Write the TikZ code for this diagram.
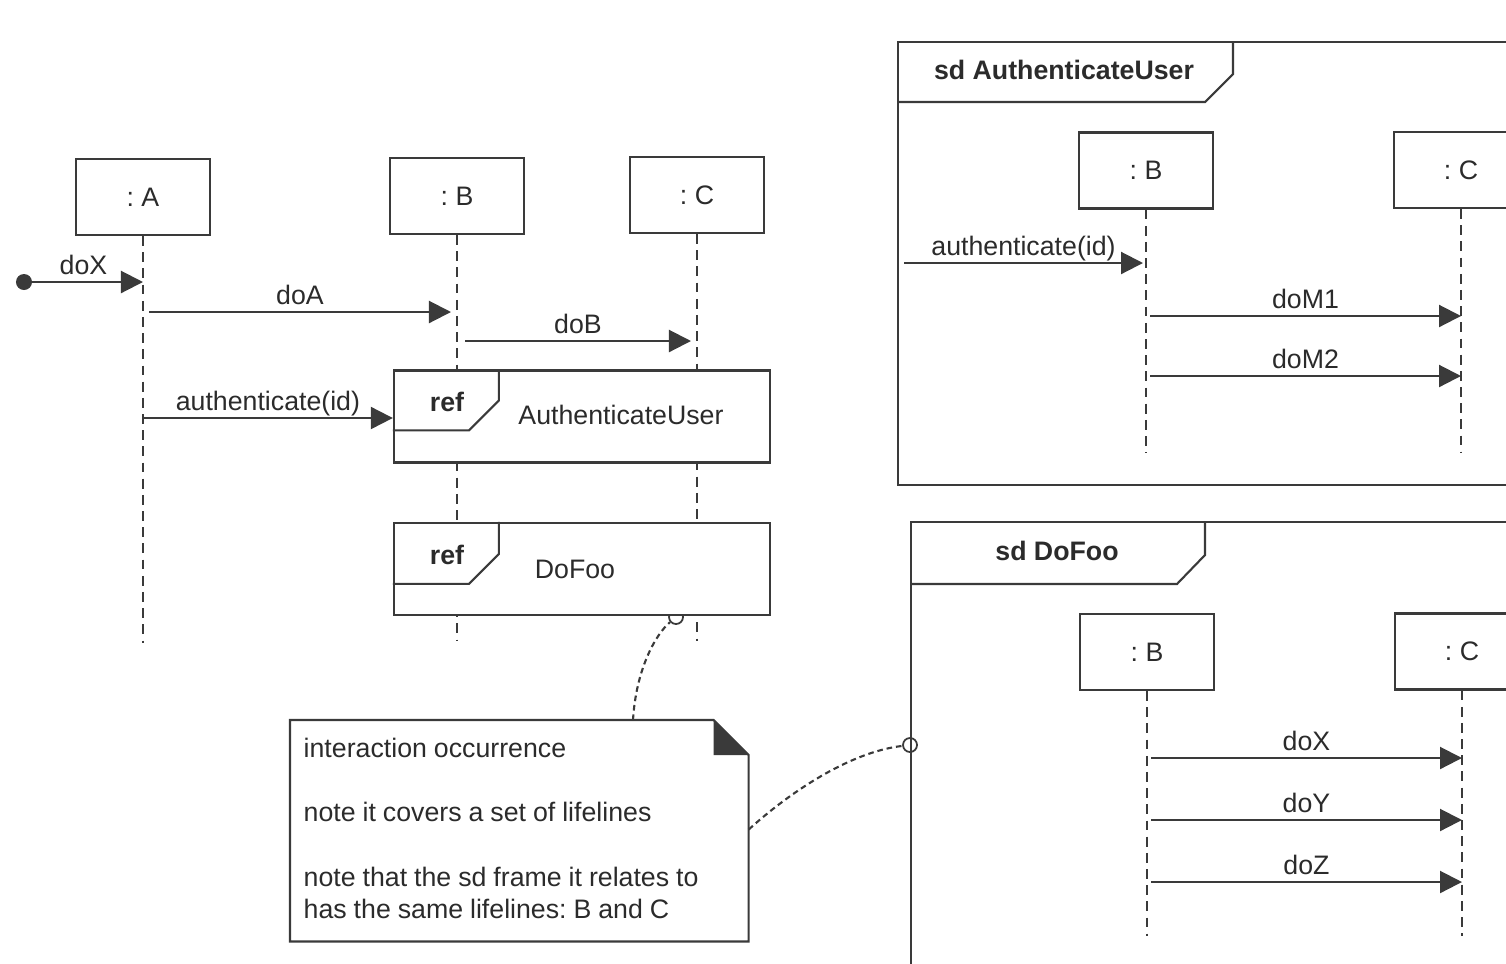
\documentclass[tikz,border=0pt]{standalone}
\usepackage{fontspec}
\setmainfont{Liberation Sans}
\usetikzlibrary{arrows.meta,calc,positioning}
\definecolor{ink}{HTML}{3A3A3A}
\definecolor{inkText}{HTML}{2B2B2B}
\frenchspacing

\begin{document}
\begin{tikzpicture}[x=0.01cm,y=-0.01cm,
  every node/.style={font=\fontsize{7.6}{9.1}\selectfont,text=inkText},
  tagtext/.style={font=\fontsize{7.6}{9.1}\selectfont\bfseries},
  lifebox/.style={draw=ink,line width=0.6pt,fill=white,minimum width=1.34cm,minimum height=0.76cm,inner sep=0pt},
  lifeline/.style={draw=ink,line width=0.6pt,dash pattern=on 2.8pt off 1.8pt},
  msg/.style={draw=ink,line width=0.6pt,-{Triangle[length=0.22cm,width=0.22cm]}},
  msglabel/.style={midway,anchor=base,yshift=2.2pt},
  refbox/.style={draw=ink,line width=0.6pt,fill=white,minimum width=3.76cm,minimum height=0.92cm,inner sep=0pt},
  sdframe/.style={draw=ink,line width=0.6pt,anchor=north west,inner sep=0pt},
  hook/.style={circle,draw=ink,line width=0.5pt,minimum size=0.14cm,inner sep=0pt},
  notelink/.style={draw=ink,line width=0.6pt,dash pattern=on 1.6pt off 1.1pt}]
  \useasboundingbox (0,0) rectangle (1506,963);
  \clip (0,0) rectangle (1506,963);

  % main interaction
  \node[lifebox] (A) at (143,197) {: A};
  \node[lifebox] (B) at (457,196) {: B};
  \node[lifebox] (C) at (697,195) {: C};
  \draw[lifeline] (A.south) -- ++(0,407);
  \draw[lifeline] (B.south) -- ++(0,406);
  \draw[lifeline] (C.south) -- ++(0,407);

  \node[hook] (hook1) at (676,617) {};
  \node[refbox] (refAU) at (582,416.5) {};
  \draw[draw=ink,line width=0.6pt] (refAU.north west) ++(106,0) -- ++(0,31) -- ++(-30,30) -- ++(-76,0);
  \node[tagtext] at (447,402) {ref};
  \node at (621,415) {AuthenticateUser};
  \node[refbox] (refDF) at (582,569) {};
  \draw[draw=ink,line width=0.6pt] (refDF.north west) ++(106,0) -- ++(0,32) -- ++(-30,30) -- ++(-76,0);
  \node[tagtext] at (447,555) {ref};
  \node at (575,569) {DoFoo};

  \node[circle,fill=ink,minimum size=0.16cm,inner sep=0pt] (start) at (24,282) {};
  \draw[msg] (start.center) -- (A.south |- start) node[msglabel] {doX};
  \draw[msg] ($(A.south |- 0,312)+(6,0)$) -- ($(B.south |- 0,312)+(-6,0)$) node[msglabel] {doA};
  \draw[msg] ($(B.south |- 0,341)+(8,0)$) -- ($(C.south |- 0,341)+(-6,0)$) node[msglabel] {doB};
  \draw[msg] (A.south |- 0,418) -- (refAU.west |- 0,418) node[msglabel] {authenticate(id)};

  % sd AuthenticateUser
  \node[sdframe,minimum width=6.4cm,minimum height=4.43cm] (sdAU) at (897,41) {};
  \draw[draw=ink,line width=0.6pt] (sdAU.north west) ++(336,0) -- ++(0,33) -- ++(-28,28) -- ++(-308,0);
  \node[tagtext] at (1064,70) {sd AuthenticateUser};
  \node[lifebox] (auB) at (1146,170.5) {: B};
  \node[lifebox] (auC) at (1461,170) {: C};
  \draw[lifeline] (auB.south) -- ++(0,243);
  \draw[lifeline] (auC.south) -- ++(0,243);
  \draw[msg] ($(sdAU.west |- 0,263)+(7,0)$) -- ($(auB.south |- 0,263)+(-3,0)$) node[msglabel] {authenticate(id)};
  \draw[msg] ($(auB.south |- 0,316)+(4,0)$) -- (auC.south |- 0,316) node[msglabel] {doM1};
  \draw[msg] ($(auB.south |- 0,376)+(4,0)$) -- (auC.south |- 0,376) node[msglabel] {doM2};

  % sd DoFoo
  \node[sdframe,minimum width=6.3cm,minimum height=4.6cm] (sdDF) at (910,521) {};
  \draw[draw=ink,line width=0.6pt] (sdDF.north west) ++(295,0) -- ++(0,34) -- ++(-28,29) -- ++(-267,0);
  \node[tagtext] at (1057,551) {sd DoFoo};
  \node[lifebox] (dfB) at (1147,652) {: B};
  \node[lifebox] (dfC) at (1462,651.5) {: C};
  \draw[lifeline] (dfB.south) -- ++(0,245);
  \draw[lifeline] (dfC.south) -- ++(0,245);
  \draw[msg] ($(dfB.south |- 0,758)+(4,0)$) -- (dfC.south |- 0,758) node[msglabel] {doX};
  \draw[msg] ($(dfB.south |- 0,820)+(4,0)$) -- (dfC.south |- 0,820) node[msglabel] {doY};
  \draw[msg] ($(dfB.south |- 0,882)+(4,0)$) -- (dfC.south |- 0,882) node[msglabel] {doZ};
  \node[hook] (hook2) at (sdDF.west |- 0,745) {};

  % note
  \node[anchor=north west,minimum width=4.57cm,minimum height=2.2cm,inner sep=0pt] (note) at (290,720) {};
  \draw[draw=ink,line width=0.6pt] (note.north west) -- ($(note.north east)+(-35,0)$) -- ($(note.north east)+(0,35)$)
    -- (note.south east) -- (note.south west) -- cycle;
  \fill[ink] ($(note.north east)+(-35,0)$) -- ($(note.north east)+(-35,35)$) -- ($(note.north east)+(0,35)$) -- cycle;
  \node[anchor=north west,text width=4.3cm,align=left,inner sep=0pt] at (303,737)
    {\spaceskip=0.26em interaction occurrence\\[9.1pt] note it covers a set of lifelines\\[9.6pt] note that the sd frame it relates to\\has the same lifelines: B and C};
  \draw[notelink] ($(note.north west)+(343,0)$) .. controls (636,670) and (655,635) .. (hook1);
  \draw[notelink] ($(note.south east)+(0,-112)$) .. controls (790,792) and (850,752) .. (hook2);
\end{tikzpicture}
\end{document}
